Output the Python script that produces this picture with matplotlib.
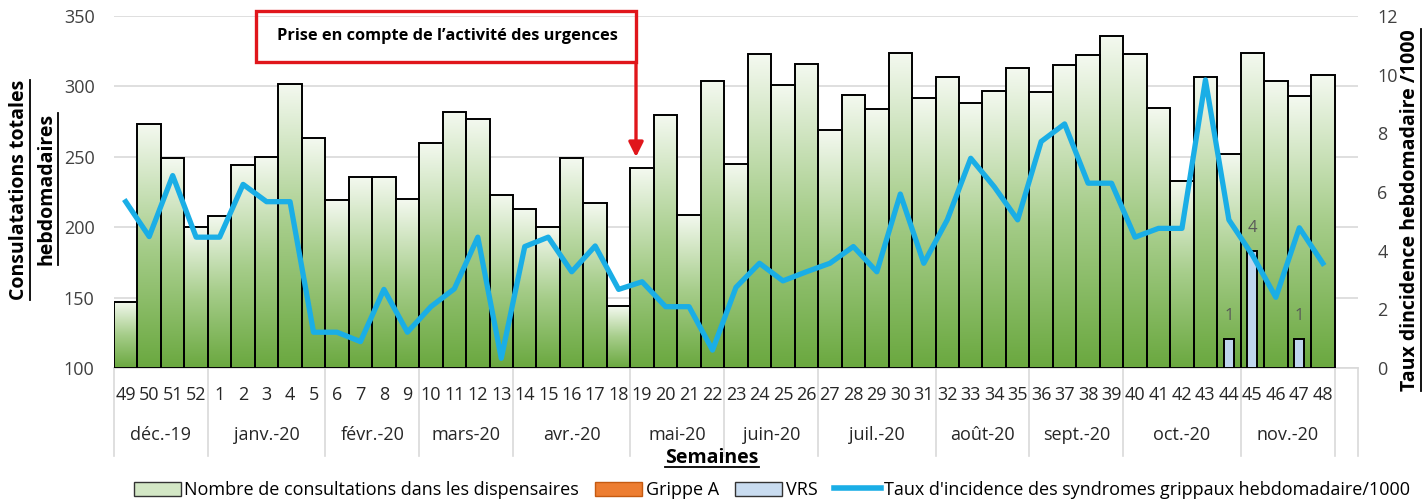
import matplotlib
matplotlib.use("Agg")
import matplotlib.pyplot as plt
import numpy as np
from matplotlib.colors import LinearSegmentedColormap
from matplotlib.patches import Rectangle, Patch, FancyArrowPatch
from matplotlib.lines import Line2D

plt.rcParams['font.family'] = ['Open Sans', 'DejaVu Sans']

# ---- donnees
semaines = [49, 50, 51, 52] + list(range(1, 49))
consultations = [147, 273, 249, 200,
                 208, 244, 250, 302, 263,
                 219, 236, 236, 220,
                 260, 282, 277, 223,
                 213, 200, 249, 217, 144,
                 242, 280, 209, 304,
                 245, 323, 301, 316,
                 269, 294, 284, 324, 292,
                 307, 288, 297, 313,
                 296, 315, 322, 336,
                 323, 285, 233, 307, 252,
                 324, 304, 293, 308]
taux = [5.67, 4.48, 6.56, 4.46,
        4.46, 6.26, 5.67, 5.67, 1.22,
        1.22, 0.90, 2.68, 1.22,
        2.09, 2.70, 4.46, 0.33,
        4.14, 4.46, 3.28, 4.16, 2.68,
        2.94, 2.09, 2.09, 0.61,
        2.75, 3.57, 2.97, 3.28,
        3.57, 4.14, 3.28, 5.93, 3.57,
        5.05, 7.15, 6.18, 5.05,
        7.72, 8.32, 6.30, 6.30,
        4.46, 4.76, 4.76, 9.82, 5.05,
        3.85, 2.41, 4.78, 3.57]
vrs_semaines = [44, 45, 47]
vrs_valeurs = [1, 4, 1]
grippe_a = []  # aucun cas
mois = ['déc.-19', 'janv.-20', 'févr.-20', 'mars-20', 'avr.-20', 'mai-20',
        'juin-20', 'juil.-20', 'août-20', 'sept.-20', 'oct.-20', 'nov.-20']
sem_par_mois = [4, 5, 4, 4, 5, 4, 4, 5, 4, 4, 5, 4]

W, H = 1425, 504
fig = plt.figure(figsize=(W / 100, H / 100), dpi=100)
ax = fig.add_axes([114 / W, 1 - 368 / H, 1244 / W, 352 / H])
ax2 = ax.twinx()

def px(x, y):
    # pixels (origine en haut a gauche) -> fraction figure
    return x / W, 1 - y / H

# barres en degrade
vert = LinearSegmentedColormap.from_list('vert', ['#6aa83f', '#a6cd8a', '#f4f9f0'])
grad = np.linspace(0, 1, 256).reshape(-1, 1)
x = np.arange(len(consultations))
for i, v in enumerate(consultations):
    ax.imshow(grad, extent=(i - 0.5, i + 0.5, 100, v), origin='lower', cmap=vert,
              aspect='auto', zorder=2, interpolation='bilinear')
ax.bar(x, [v - 100 for v in consultations], bottom=100, width=1.0, fill=False,
       edgecolor='black', linewidth=1.4, zorder=3)

ax.set_xlim(-0.5, 52.5)
ax.set_ylim(100, 350)
ax.set_yticks(range(100, 351, 50))
ax.yaxis.grid(True, color='#d9d9d9', linewidth=1.2, zorder=0)
ax.set_axisbelow(True)
for s in ['top', 'left', 'right']:
    ax.spines[s].set_visible(False)
ax.spines['bottom'].set_color('#d9d9d9')
ax.spines['bottom'].set_linewidth(1.2)
ax.tick_params(axis='y', length=0, labelsize=13, pad=14, labelcolor='#404040')
ax.tick_params(axis='x', length=0, labelbottom=False)

# axe secondaire
idx_vrs = [semaines.index(s) for s in vrs_semaines]
ax2.bar(idx_vrs, vrs_valeurs, width=0.42, color='#bfd6ee', edgecolor='black',
        linewidth=1.4, zorder=3)
for i, v in zip(idx_vrs, vrs_valeurs):
    ax2.text(i, v + 0.5, str(v), ha='center', va='bottom', fontsize=12, color='#595959')
ax2.plot(x, taux, color='#1aaee6', linewidth=3.8, zorder=4, solid_joinstyle='round')
ax2.set_ylim(0, 12)
ax2.set_yticks(range(0, 13, 2))
ax2.tick_params(axis='y', length=0, labelsize=13, pad=14, labelcolor='#404040')
for s in ax2.spines.values():
    s.set_visible(False)

# axe des categories (semaines / mois)
tr = ax.get_xaxis_transform()
for i, s in enumerate(semaines):
    ax.text(i, -0.077, str(s), transform=tr, ha='center', va='center', fontsize=13,
            color='#262626')
bords = np.concatenate([[0], np.cumsum(sem_par_mois)]) - 0.5
for b in list(bords) + [52.5]:
    ax.plot([b, b], [0, -0.25], transform=tr, color='#d9d9d9', linewidth=1.2,
            clip_on=False)
for m, a, b in zip(mois, bords[:-1], bords[1:]):
    ax.text((a + b) / 2, -0.19, m, transform=tr, ha='center', va='center',
            fontsize=13, color='#262626')

# titres d'axes soulignes
t1 = fig.text(*px(19, 190), 'Consulatations totales', rotation=90, ha='center',
              va='center', fontsize=14, fontweight='bold')
t2 = fig.text(*px(47, 189), 'hebdomadaires', rotation=90, ha='center',
              va='center', fontsize=14, fontweight='bold')
t3 = fig.text(*px(1410, 210), 'Taux dincidence hebdomadaire /1000', rotation=90,
              ha='center', va='center', fontsize=14, fontweight='bold')
t4 = fig.text(*px(712, 458), 'Semaines', ha='center', va='center', fontsize=14,
              fontweight='bold')

# encadre rouge + fleche
x0, y0 = px(256, 62)
x1, y1 = px(636, 11)
fig.add_artist(Rectangle((x0, y0), x1 - x0, y1 - y0, transform=fig.transFigure,
                         fill=False, edgecolor='#e0161b', linewidth=2.4))
fig.text(*px(277, 36), 'Prise en compte de l’activité des urgences', ha='left',
         va='center', fontsize=11.8, fontweight='bold')
fig.add_artist(FancyArrowPatch(px(636, 62), px(636, 157), transform=fig.transFigure,
                               arrowstyle='-|>', mutation_scale=22, color='#e0161b',
                               linewidth=2.4, shrinkA=0, shrinkB=0))

# legende
poignees = [Patch(facecolor='#d3e7c5', edgecolor='#333333', linewidth=1),
            Patch(facecolor='#ed7d31', edgecolor='#c55a11', linewidth=1),
            Patch(facecolor='#c9dcf0', edgecolor='#333333', linewidth=1),
            Line2D([], [], color='#1aaee6', linewidth=4)]
etiquettes = ['Nombre de consultations dans les dispensaires', 'Grippe A', 'VRS',
              'Taux d\'incidence des syndromes grippaux hebdomadaire/1000']
fig.legend(poignees, etiquettes, loc='center', bbox_to_anchor=px(772, 490), ncol=4,
           frameon=False, fontsize=13, handlelength=2.6, handleheight=0.8,
           handletextpad=0.2, columnspacing=0.9)

# soulignement
fig.canvas.draw()
inv = fig.transFigure.inverted()
for t in [t1, t2, t3]:
    bb = t.get_window_extent()
    (a, b), (c, d) = inv.transform([(bb.x1 + 1, bb.y0), (bb.x1 + 1, bb.y1)])
    fig.add_artist(Line2D([a, c], [b, d], transform=fig.transFigure, color='black',
                          linewidth=1.3))
bb = t4.get_window_extent()
(a, b), (c, d) = inv.transform([(bb.x0, bb.y0 + 1), (bb.x1, bb.y0 + 1)])
fig.add_artist(Line2D([a, c], [b, d], transform=fig.transFigure, color='black',
                      linewidth=1.3))

fig.savefig('out.png', dpi=100)
